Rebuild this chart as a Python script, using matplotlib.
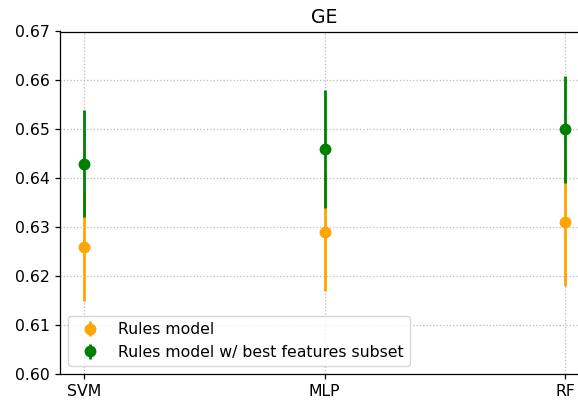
import matplotlib
matplotlib.use("Agg")
import matplotlib.pyplot as plt
import numpy as np

models = ["SVM", "MLP", "RF"]
rules_mean = [0.626, 0.629, 0.631]
rules_err = [0.011, 0.012, 0.013]
best_mean = [0.643, 0.646, 0.650]
best_err = [0.011, 0.012, 0.011]

scale = 1.13
plt.rcParams.update({
    "font.size": 10 * scale,
    "axes.titlesize": 12 * scale,
    "axes.linewidth": 0.8 * scale,
    "xtick.major.width": 0.8 * scale,
    "ytick.major.width": 0.8 * scale,
    "xtick.major.size": 3.5 * scale,
    "ytick.major.size": 3.5 * scale,
})

fig = plt.figure(figsize=(5.78, 4.03), dpi=100)
ax = fig.add_axes([60 / 578, 1 - 374 / 403, 529 / 578, (374 - 31.5) / 403])

x = np.arange(len(models))
ax.errorbar(x, rules_mean, yerr=rules_err, fmt="o", color="orange",
            ecolor="orange", elinewidth=2, markersize=7.5, label="Rules model")
ax.errorbar(x, best_mean, yerr=best_err, fmt="o", color="green",
            ecolor="green", elinewidth=2, markersize=7.5,
            label="Rules model w/ best features subset")

ax.set_xticks(x)
ax.set_xticklabels(models)
ax.set_xlim(-0.1, 2.1)
ax.set_ylim(0.60, 0.67)
ax.set_yticks(np.arange(0.60, 0.6701, 0.01))
ax.grid(True, linestyle=":", color="#bbbbbb", linewidth=0.8 * scale)
ax.set_axisbelow(True)
ax.set_title("GE")
ax.legend(loc="lower left")

fig.savefig("out.png", dpi=100)
